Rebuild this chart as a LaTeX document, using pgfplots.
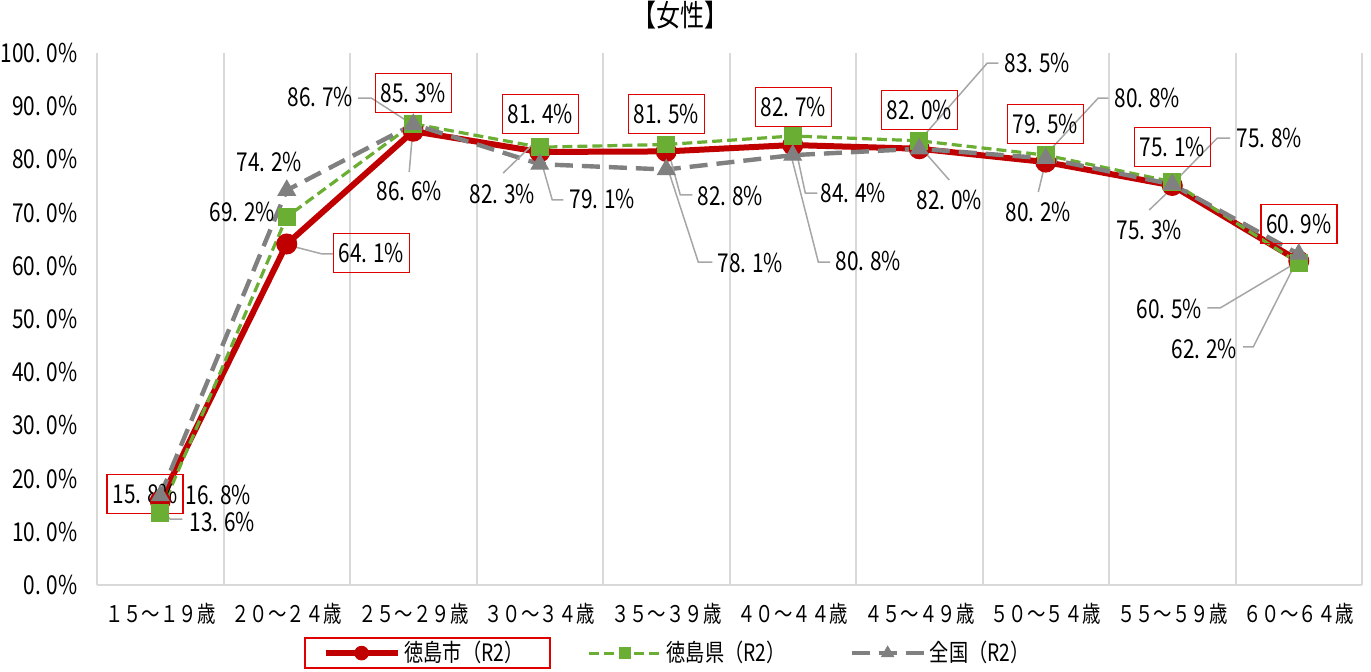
\documentclass[border=0pt]{standalone}
\usepackage{fontspec}
\setmainfont{Noto Sans CJK JP}[FakeStretch=0.8]
\usepackage{pgfplots}
\pgfplotsset{compat=1.18}

\definecolor{cityred}{HTML}{C00000}
\definecolor{boxred}{HTML}{E00000}
\definecolor{prefgreen}{HTML}{6AAE34}
\definecolor{natgray}{HTML}{808080}
\definecolor{gridgray}{HTML}{D9D9D9}
\definecolor{leadgray}{HTML}{A6A6A6}

\newcommand\pct[2]{#1.\kern0.22em#2\%}
\newcommand\fs[1]{\fontsize{#1}{#1}\selectfont}

\begin{document}
\begin{tikzpicture}[
  lbl/.style={font=\fs{13}, inner sep=0pt},
  rbox/.style={lbl, draw=boxred, line width=0.75pt, minimum width=38pt, minimum height=19.5pt},
  leader/.style={draw=leadgray, line width=0.75pt},
]
\begin{axis}[
  scale only axis, width=632.5pt, height=266pt,
  xmin=0.5, xmax=10.5, ymin=0, ymax=100,
  clip=false,
  axis x line*=bottom, axis y line*=left,
  axis line style={draw=gridgray, line width=1pt, -},
  major tick length=0pt, minor tick length=0pt,
  xtick={1,2,3,4,5,6,7,8,9,10},
  xticklabels={１５～１９歳,２０～２４歳,２５～２９歳,３０～３４歳,３５～３９歳,４０～４４歳,４５～４９歳,５０～５４歳,５５～５９歳,６０～６４歳},
  xticklabel style={anchor=north, inner sep=0pt, yshift=-9pt, font=\fs{11.5}},
  minor xtick={0.5,1.5,2.5,3.5,4.5,5.5,6.5,7.5,8.5,9.5,10.5},
  xminorgrids=true,
  minor grid style={draw=gridgray, line width=1pt},
  ytick={0,10,20,30,40,50,60,70,80,90,100},
  yticklabels={\pct{0}{0},\pct{10}{0},\pct{20}{0},\pct{30}{0},\pct{40}{0},\pct{50}{0},\pct{60}{0},\pct{70}{0},\pct{80}{0},\pct{90}{0},\pct{100}{0}},
  yticklabel style={anchor=east, inner sep=0pt, xshift=-9.5pt, font=\fs{13}},
  title={【女性】},
  title style={at={(axis description cs:0.4609,1.0489)}, anchor=center, inner sep=0pt, font=\fs{15}},
  legend columns=3,
  legend cell align=left,
  legend style={at={(axis description cs:0.178,-0.128)}, anchor=west, draw=none, fill=none,
    inner sep=0pt, font=\fs{12},
    /tikz/every even column/.append style={column sep=30pt}},
  legend image code/.code={\draw[mark repeat=2,mark phase=2,#1,every mark/.append style={scale=0.68}] plot coordinates {(0pt,0pt) (18pt,0pt) (36pt,0pt)};},
]
\addplot[cityred, line width=3pt, mark=*, mark size=5pt,
  mark options={fill=cityred, draw=cityred, line width=0.5pt}]
  coordinates {(1,15.8)(2,64.1)(3,85.3)(4,81.4)(5,81.5)(6,82.7)(7,82.0)(8,79.5)(9,75.1)(10,60.9)};
\addplot[prefgreen, line width=1.6pt, dash pattern=on 5pt off 2.5pt, mark=square*, mark size=4.2pt,
  mark options={solid, fill=prefgreen, draw=prefgreen, line width=0.5pt}]
  coordinates {(1,13.6)(2,69.2)(3,86.7)(4,82.3)(5,82.8)(6,84.4)(7,83.5)(8,80.8)(9,75.8)(10,60.5)};
\addplot[natgray, line width=2.2pt, dash pattern=on 9pt off 4.5pt, mark=triangle*, mark size=5pt,
  mark options={solid, fill=natgray, draw=natgray, line width=0.5pt}]
  coordinates {(1,16.8)(2,74.2)(3,86.6)(4,79.1)(5,78.1)(6,80.8)(7,82.0)(8,80.2)(9,75.3)(10,62.2)};
\legend{徳島市（R2）,徳島県（R2）,全国（R2）}

% leader lines
\draw[leader] (axis cs:2.004,63.91) -- (axis cs:2.281,62.22) -- (axis cs:2.368,62.22);
\draw[leader] (axis cs:2.565,91.54) -- (axis cs:2.668,91.54) -- (axis cs:3.0,86.47);
\draw[leader] (axis cs:3.0,86.47) -- (axis cs:2.968,77.63);
\draw[leader] (axis cs:1.016,13.53) -- (axis cs:1.079,12.40) -- (axis cs:1.174,12.40);
\draw[leader] (axis cs:3.988,83.83) -- (axis cs:3.711,77.44);
\draw[leader] (axis cs:4.020,78.95) -- (axis cs:4.099,72.37) -- (axis cs:4.186,72.37);
\draw[leader] (axis cs:5.008,82.33) -- (axis cs:5.111,73.31) -- (axis cs:5.206,73.31);
\draw[leader] (axis cs:5.016,78.01) -- (axis cs:5.253,60.71) -- (axis cs:5.364,60.71);
\draw[leader] (axis cs:6.004,84.21) -- (axis cs:6.099,73.68) -- (axis cs:6.194,73.68);
\draw[leader] (axis cs:5.996,79.89) -- (axis cs:6.202,60.71) -- (axis cs:6.296,60.71);
\draw[leader] (axis cs:6.992,83.27) -- (axis cs:7.538,98.12) -- (axis cs:7.625,98.12);
\draw[leader] (axis cs:7.063,80.83) -- (axis cs:7.237,76.13);
\draw[leader] (axis cs:8.012,81.20) -- (axis cs:8.415,91.54) -- (axis cs:8.494,91.54);
\draw[leader] (axis cs:7.996,79.32) -- (axis cs:7.941,73.87);
\draw[leader] (axis cs:9.008,75.56) -- (axis cs:9.356,84.02) -- (axis cs:9.458,84.02);
\draw[leader] (axis cs:9.040,75.56) -- (axis cs:8.818,70.49);
\draw[leader] (axis cs:9.988,60.71) -- (axis cs:9.379,52.07) -- (axis cs:9.277,52.07);
\draw[leader] (axis cs:9.996,61.47) -- (axis cs:9.640,44.74) -- (axis cs:9.561,44.74);

% 徳島市 labels (boxed)
\node[rbox] at (axis cs:0.881,17.11) {\pct{15}{8}};
\node[rbox] at (axis cs:2.668,62.41) {\pct{64}{1}};
\node[rbox] at (axis cs:3.0,92.48) {\pct{85}{3}};
\node[rbox] at (axis cs:4.004,88.53) {\pct{81}{4}};
\node[rbox] at (axis cs:5.0,88.53) {\pct{81}{5}};
\node[rbox] at (axis cs:6.004,89.85) {\pct{82}{7}};
\node[rbox] at (axis cs:7.0,89.29) {\pct{82}{0}};
\node[rbox] at (axis cs:7.996,86.65) {\pct{79}{5}};
\node[rbox] at (axis cs:9.0,82.33) {\pct{75}{1}};
\node[rbox] at (axis cs:10.0,67.86) {\pct{60}{9}};

% 徳島県 labels
\node[lbl] at (axis cs:1.49,11.9) {\pct{13}{6}};
\node[lbl] at (axis cs:1.648,70.11) {\pct{69}{2}};
\node[lbl] at (axis cs:2.265,91.73) {\pct{86}{7}};
\node[lbl] at (axis cs:3.704,73.50) {\pct{82}{3}};
\node[lbl] at (axis cs:5.506,73.12) {\pct{82}{8}};
\node[lbl] at (axis cs:6.478,73.68) {\pct{84}{4}};
\node[lbl] at (axis cs:7.933,98.12) {\pct{83}{5}};
\node[lbl] at (axis cs:8.802,91.54) {\pct{80}{8}};
\node[lbl] at (axis cs:9.767,84.02) {\pct{75}{8}};
\node[lbl] at (axis cs:8.976,51.88) {\pct{60}{5}};

% 全国 labels
\node[lbl] at (axis cs:1.46,16.9) {\pct{16}{8}};
\node[lbl] at (axis cs:1.862,79.51) {\pct{74}{2}};
\node[lbl] at (axis cs:2.968,74.06) {\pct{86}{6}};
\node[lbl] at (axis cs:4.494,72.56) {\pct{79}{1}};
\node[lbl] at (axis cs:5.664,60.53) {\pct{78}{1}};
\node[lbl] at (axis cs:6.597,60.90) {\pct{80}{8}};
\node[lbl] at (axis cs:7.237,72.37) {\pct{82}{0}};
\node[lbl] at (axis cs:7.941,70.11) {\pct{80}{2}};
\node[lbl] at (axis cs:8.818,66.73) {\pct{75}{3}};
\node[lbl] at (axis cs:9.253,44.36) {\pct{62}{2}};

\coordinate (O) at (rel axis cs:0,0);
\end{axis}
\draw[boxred, line width=1pt] (O) ++(104pt,-26.5pt) rectangle ++(122.5pt,-15pt);
\path (O) ++(-48.5pt,-43pt) rectangle ++(685.5pt,335.5pt);
\end{tikzpicture}
\end{document}
